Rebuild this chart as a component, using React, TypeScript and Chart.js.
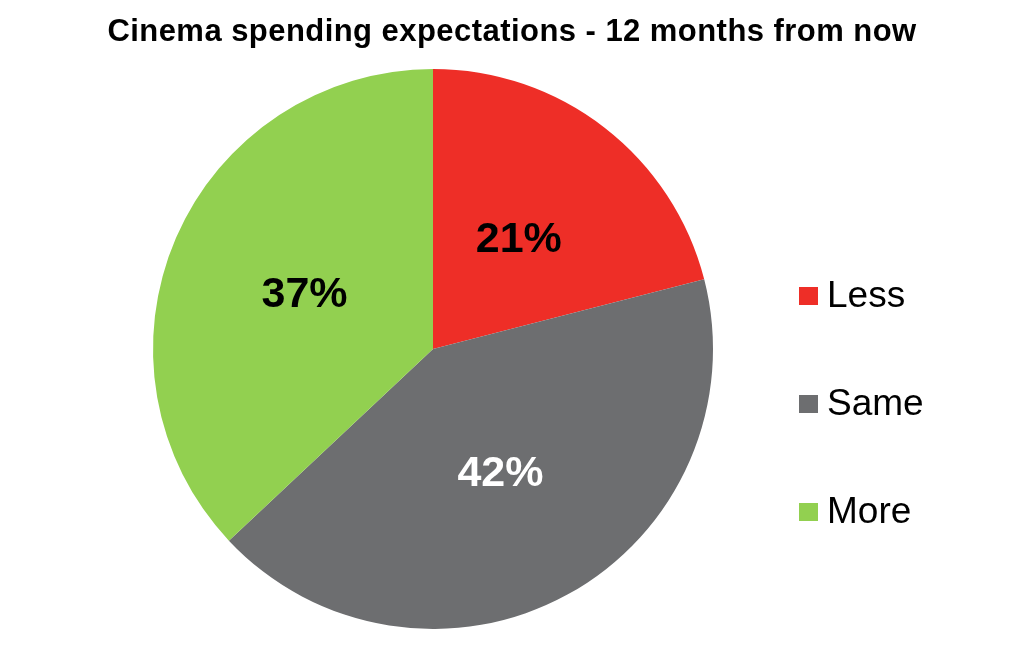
import { useEffect, useRef } from 'react';
import Chart from 'chart.js/auto';

const categories = ['Less', 'Same', 'More'];
const shares = [21, 42, 37];
const sliceColors = ['#EE2E27', '#6D6E70', '#92D050'];
const labelColors = ['#000000', '#FFFFFF', '#000000'];
const chartTitle = 'Cinema spending expectations - 12 months from now';

const FONT = '"Liberation Sans", Arial, sans-serif';

// percent labels inside each slice
const sliceLabels = {
  id: 'sliceLabels',
  afterDatasetsDraw(chart: any) {
    const ctx = chart.ctx;
    const meta = chart.getDatasetMeta(0);
    ctx.save();
    ctx.font = `bold 43px ${FONT}`;
    ctx.textAlign = 'center';
    ctx.textBaseline = 'middle';
    meta.data.forEach((arc: any, i: number) => {
      const mid = (arc.startAngle + arc.endAngle) / 2;
      const r = arc.outerRadius * 0.5;
      ctx.fillStyle = labelColors[i];
      ctx.fillText(`${shares[i]}%`, arc.x + Math.cos(mid) * r, arc.y + Math.sin(mid) * r + 2);
    });
    ctx.restore();
  },
};

// title across the full canvas width + legend to the right of the pie
const frame = {
  id: 'frame',
  afterDraw(chart: any) {
    const ctx = chart.ctx;
    const area = chart.chartArea;
    const cy = (area.top + area.bottom) / 2;
    ctx.save();
    ctx.font = `bold 31px ${FONT}`;
    ctx.letterSpacing = '0.45px';
    ctx.textAlign = 'center';
    ctx.textBaseline = 'middle';
    ctx.fillStyle = '#000000';
    ctx.fillText(chartTitle, chart.width / 2, 32);
    ctx.letterSpacing = '0px';

    ctx.textAlign = 'left';
    ctx.font = `37px ${FONT}`;
    categories.forEach((name, i) => {
      const y = cy - 53 + i * 108;
      ctx.fillStyle = sliceColors[i];
      ctx.fillRect(799, y - 9, 19, 18);
      ctx.fillStyle = '#000000';
      ctx.fillText(name, 827, y + 1);
    });
    ctx.restore();
  },
};

export default function App() {
  const canvasRef = useRef<HTMLCanvasElement>(null);
  const chartRef = useRef<Chart | null>(null);

  useEffect(() => {
    if (!canvasRef.current) return;
    if (chartRef.current) chartRef.current.destroy();

    chartRef.current = new Chart(canvasRef.current, {
      type: 'pie',
      data: {
        labels: categories,
        datasets: [
          {
            data: shares,
            backgroundColor: sliceColors,
            borderWidth: 0,
          },
        ],
      },
      options: {
        animation: false,
        responsive: true,
        maintainAspectRatio: false,
        layout: { padding: { top: 69, left: 153, right: 311, bottom: 17 } },
        plugins: {
          legend: { display: false },
          tooltip: { enabled: false },
          title: { display: false },
        },
      },
      plugins: [sliceLabels, frame],
    });

    return () => {
      if (chartRef.current) chartRef.current.destroy();
    };
  }, []);

  return (
    <div style={{ position: 'fixed', left: 0, top: 0, width: 1024, height: 646, background: '#fff' }}>
      <canvas ref={canvasRef} />
    </div>
  );
}
